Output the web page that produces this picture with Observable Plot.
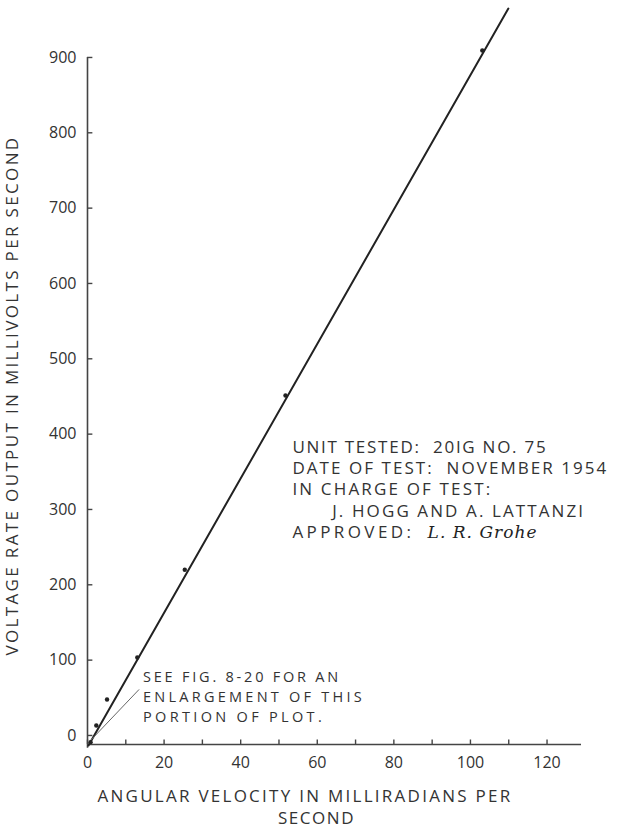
<!DOCTYPE html>
<html><head><meta charset="utf-8">
<script src="https://cdn.jsdelivr.net/npm/d3@7"></script>
<script src="https://cdn.jsdelivr.net/npm/@observablehq/plot@0.6"></script>
<style>
html,body{margin:0;padding:0;background:#fff;}
svg text{white-space:pre;}
</style></head><body><div id="chart"></div>
<script>
// ---- data ----
const xTicksMajor = [0, 20, 40, 60, 80, 100, 120];
const xTicksMinor = [0, 10, 20, 30, 40, 50, 60, 70, 80, 90, 100, 110, 120];
const yTicks = [0, 100, 200, 300, 400, 500, 600, 700, 800, 900];
const angularVelocity = [0.8, 2.3, 5.1, 13.0, 25.4, 51.7, 103.1];   // mrad/s
const voltageRate = [-8.9, 13.3, 47.8, 103.5, 220, 451.3, 909.3];    // mV/s
const fitLineX = [0.26, 109.9];
const fitLineY = [-13.3, 965];
const leaderX = [0.8, 13.4];
const leaderY = [-6.6, 60.7];
const noteLines = ["SEE FIG. 8-20 FOR AN", "ENLARGEMENT OF THIS", "PORTION OF PLOT."];
const infoLines = ["UNIT TESTED:  20IG NO. 75", "DATE OF TEST:  NOVEMBER 1954", "IN CHARGE OF TEST:", "J. HOGG AND A. LATTANZI", "APPROVED:"];
const signature = ["L. R. Grohe"];
const xLabelLines = ["ANGULAR VELOCITY IN MILLIRADIANS PER", "SECOND"];
const yLabel = ["VOLTAGE RATE OUTPUT IN MILLIVOLTS PER SECOND"];

const xMin = 0, xMax = 129, yMin = -12, yMax = 965;
const ink = "#333";

const points = angularVelocity.map((x, i) => ({x, y: voltageRate[i]}));
const fit = fitLineX.map((x, i) => ({x, y: fitLineY[i]}));
const leader = leaderX.map((x, i) => ({x, y: leaderY[i]}));

const chart = Plot.plot({
  width: 617, height: 828,
  marginLeft: 87, marginRight: 36, marginTop: 8, marginBottom: 84,
  style: {fontFamily: "'Open Sans', sans-serif", fontSize: "16px", color: ink, background: "#fff"},
  x: {domain: [xMin, xMax], axis: null},
  y: {domain: [yMin, yMax], axis: null},
  marks: [
    // axes lines
    Plot.ruleY([yMin], {x1: xMin, x2: xMax, stroke: "#444", strokeWidth: 1.6}),
    Plot.ruleX([0], {y1: yMin - 5, y2: yTicks[yTicks.length - 1], stroke: "#444", strokeWidth: 1.6}),
    // ticks (inward)
    Plot.ruleY(yTicks, {x1: 0, x2: 1.4, stroke: "#444", strokeWidth: 1.4}),
    Plot.ruleX(xTicksMinor, {y1: yMin, y2: yMin + 6, stroke: "#444", strokeWidth: 1.4}),
    Plot.axisY(yTicks, {anchor: "left", tickSize: 0, tickPadding: 11, label: null, fill: ink, fontSize: 16}),
    Plot.axisX(xTicksMajor, {anchor: "bottom", tickSize: 0, tickPadding: 12, label: null, fill: ink, fontSize: 16}),
    // fitted line, leader line, measurements
    Plot.line(fit, {x: "x", y: "y", stroke: "#222", strokeWidth: 2}),
    Plot.line(leader, {x: "x", y: "y", stroke: "#666", strokeWidth: 1}),
    Plot.dot(points, {x: "x", y: "y", r: 2.2, fill: "#222", stroke: "none"}),
    // note
    Plot.text(noteLines, {x: 14.5, y: (d, i) => 77 - i * 26.5, text: d => d, textAnchor: "start", lineAnchor: "middle", fontSize: 14.5, fill: ink}),
    // info block
    Plot.text(infoLines, {x: (d, i) => i === 3 ? 63.9 : 53.5, y: (d, i) => 382.3 - i * 28.2, text: d => d, textAnchor: "start", lineAnchor: "middle", fontSize: 17, fill: ink}),
    Plot.text(signature, {x: 88.8, y: 269, text: d => d, textAnchor: "start", lineAnchor: "middle", fontSize: 17, fontStyle: "italic", fontFamily: "'DejaVu Serif', serif", fill: "#222"}),
    // axis labels
    Plot.text(yLabel, {frameAnchor: "left", rotate: -90, dx: -75, dy: 19, text: d => d, textAnchor: "middle", lineAnchor: "middle", fontSize: 17, fill: ink}),
    Plot.text([xLabelLines[0]], {x: 2.6, frameAnchor: "bottom", dy: 52, text: d => d, textAnchor: "start", lineAnchor: "middle", fontSize: 17, fill: ink}),
    Plot.text([xLabelLines[1]], {x: 59.8, frameAnchor: "bottom", dy: 74, text: d => d, textAnchor: "middle", lineAnchor: "middle", fontSize: 17, fill: ink})
  ]
});
document.getElementById("chart").appendChild(chart);

// stretch lettering to the widths measured in the reference
function fitWidth(prefix, target) {
  d3.select(chart).selectAll("text").filter(function () { return this.textContent.startsWith(prefix); })
    .each(function () {
      const n = this.textContent.length;
      const w = this.getComputedTextLength();
      this.style.letterSpacing = ((target - w) / n) + "px";
    });
}
fitWidth("VOLTAGE", 520);
fitWidth("ANGULAR", 415);
fitWidth("SECOND", 77);
fitWidth("UNIT", 255);
fitWidth("DATE", 316);
fitWidth("IN CHARGE", 200);
fitWidth("J. HOGG", 253);
fitWidth("APPROVED", 122);
fitWidth("SEE FIG", 198);
fitWidth("ENLARGEMENT", 222);
fitWidth("PORTION", 182);
fitWidth("L. R.", 110);
</script></body></html>
